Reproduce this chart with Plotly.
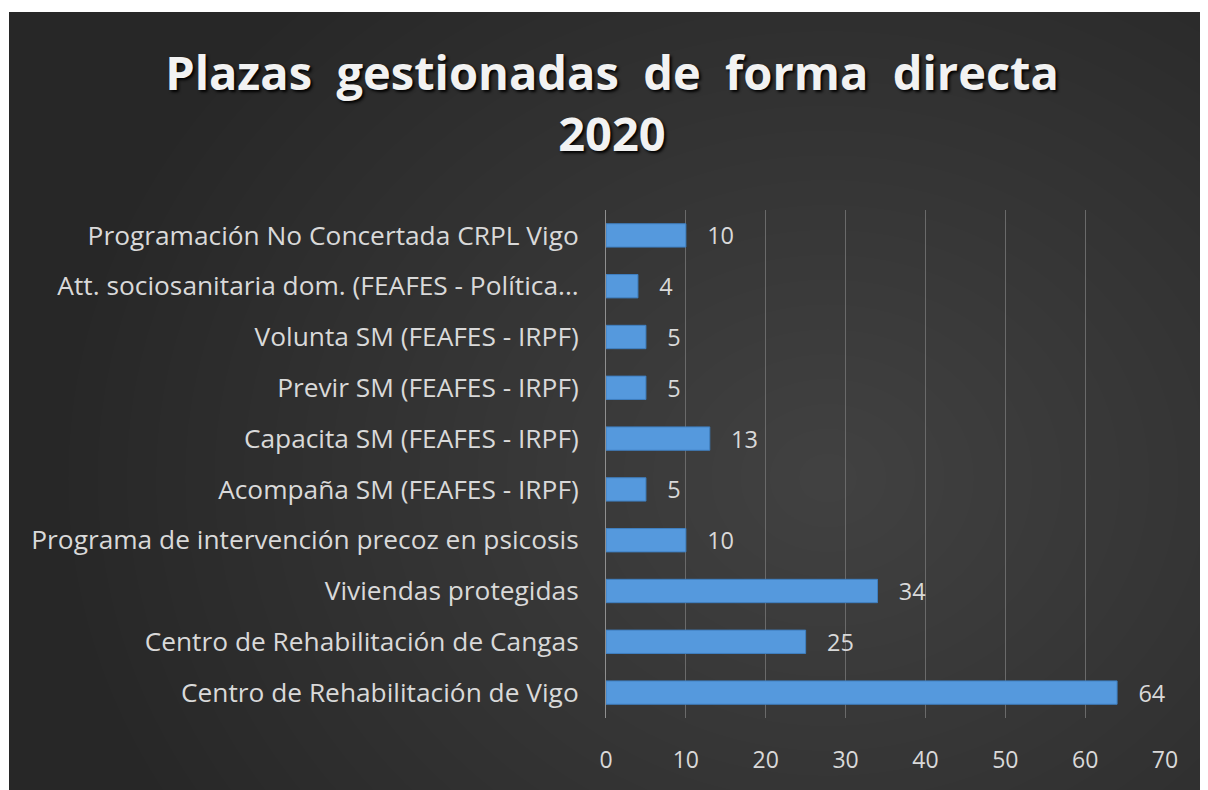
import plotly.graph_objects as go

categories = [
    "Centro de Rehabilitación de Vigo",
    "Centro de Rehabilitación de Cangas",
    "Viviendas protegidas",
    "Programa de intervención precoz en psicosis",
    "Acompaña SM (FEAFES - IRPF)",
    "Capacita SM (FEAFES - IRPF)",
    "Previr SM (FEAFES - IRPF)",
    "Volunta SM (FEAFES - IRPF)",
    "Att. sociosanitaria dom. (FEAFES - Política...",
    "Programación No Concertada CRPL Vigo",
]
values = [64, 25, 34, 10, 5, 13, 5, 5, 4, 10]
x_ticks = [0, 10, 20, 30, 40, 50, 60, 70]

# the page body adds an 8px offset, so the figure is 8px smaller
W, H = 1200, 782
ML, MR, MT, MB = 598, 43, 202, 72
PW, PH = W - ML - MR, H - MT - MB


def px2x(px):
    return (px - ML) / PW


def px2y(py):
    return (H - MB - py) / PH


shapes = [
    dict(type="rect", xref="paper", yref="paper",
         x0=px2x(1), x1=px2x(W + 5), y0=px2y(4), y1=px2y(H + 5),
         fillcolor="#272727", line=dict(width=0), layer="below")
]
cx, cy = 820, 470
N = 26
for k in range(N):
    r = 760 * (1 - k / N)
    shapes.append(dict(
        type="circle", xref="paper", yref="paper",
        x0=px2x(cx - r), x1=px2x(cx + r), y0=px2y(cy + r * 0.85), y1=px2y(cy - r * 0.85),
        fillcolor="rgba(255,255,255,0.0065)", line=dict(width=0), layer="below"))

font_family = "Open Sans, DejaVu Sans, sans-serif"

fig = go.Figure(go.Bar(
    x=values, y=categories, orientation="h",
    marker=dict(color="#5599dd", line=dict(color="#3f7fc0", width=1)),
    width=0.46,
    text=values,
    texttemplate="\u00a0\u00a0\u00a0%{x}",
    textposition="outside",
    constraintext="none",
    textfont=dict(color="#d9d9d9", size=23.5, family=font_family),
    cliponaxis=False,
))

fig.update_layout(
    width=W, height=H,
    margin=dict(l=ML, r=MR, t=MT, b=MB),
    paper_bgcolor="white",
    plot_bgcolor="rgba(0,0,0,0)",
    shapes=shapes,
    showlegend=False,
    title=dict(
        text="Plazas  gestionadas  de  forma  directa<br>2020",
        x=604 / W, xref="container", xanchor="center",
        y=1 - 82 / H, yref="container", yanchor="middle",
        font=dict(family=font_family, size=47, color="#f2f2f2",
                  weight="bold", shadow="2px 2px 3px #000000"),
    ),
    xaxis=dict(
        range=[0, 70], tickvals=x_ticks, showgrid=True,
        gridcolor="#6a6a6a", gridwidth=1, zeroline=False,
        showline=False, ticks="", ticklabelstandoff=26,
        tickfont=dict(color="#d9d9d9", size=23, family=font_family),
    ),
    yaxis=dict(
        categoryorder="array", categoryarray=categories,
        range=[-0.5, 9.5], showgrid=False, zeroline=False,
        showline=True, linecolor="#8f8f8f", linewidth=1,
        ticks="", ticklabelstandoff=21,
        tickfont=dict(color="#d9d9d9", size=26.3, family=font_family),
    ),
    bargap=0.54,
)

fig.write_html("out.html")
